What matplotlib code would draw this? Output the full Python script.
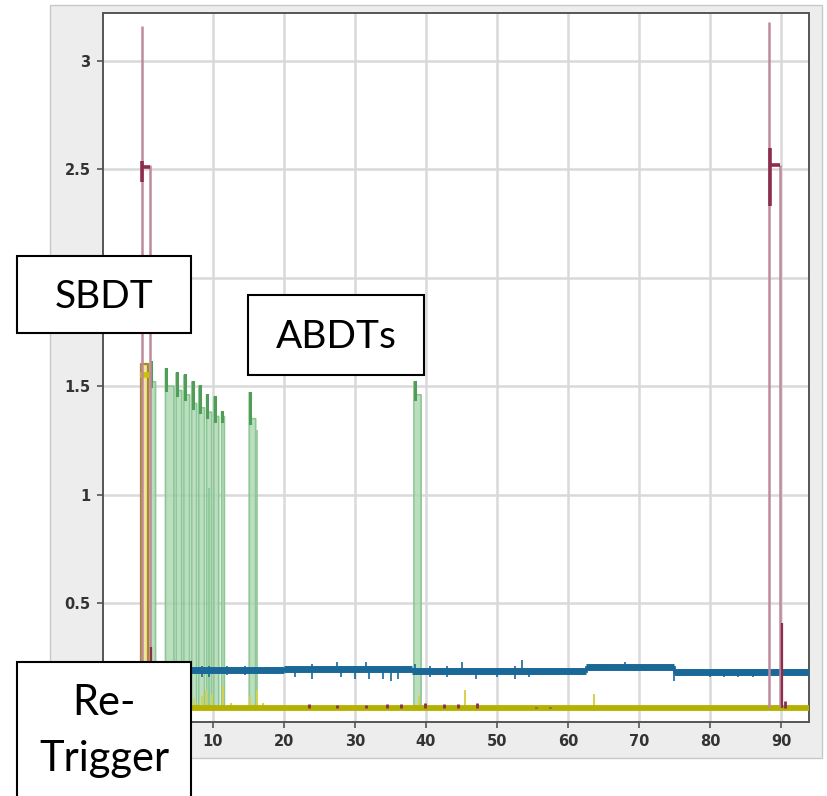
import matplotlib
matplotlib.use('Agg')
import matplotlib.pyplot as plt
from matplotlib.patches import Rectangle

# ---------------- data ----------------
x_ticks = [10, 20, 30, 40, 50, 60, 70, 80, 90]
y_ticks = [0.5, 1, 1.5, 2, 2.5, 3]
y_tick_labels = ['0.5', '1', '1.5', '', '2.5', '3']  # "2" is hidden behind the SBDT box

# SBDT (maroon) spikes
sbdt_spike_x = [0.0, 1.1, 88.3, 89.9]
sbdt_spike_top = [3.16, 2.52, 3.18, 2.52]
sbdt_flag_x0 = [0.0, 88.4]
sbdt_flag_x1 = [1.1, 89.9]
sbdt_flag_y = [2.51, 2.52]
sbdt_flag_lo = [2.44, 2.33]
sbdt_flag_hi = [2.54, 2.60]
sbdt_tail_x = [1.3, 90.1]
sbdt_tail_top = [0.30, 0.41]
sbdt_small_x = [23.5, 27.5, 31.5, 34.5, 36.5, 39.8, 42.5, 44.5, 47.2, 55.5, 57.5, 90.6]
sbdt_small_top = [0.035, 0.03, 0.03, 0.035, 0.035, 0.04, 0.035, 0.035, 0.04, 0.02, 0.02, 0.05]

# Re-trigger (yellow) pulse and baseline
retrig_x0 = -0.2
retrig_x1 = 0.9
retrig_top = 1.60
retrig_base = 0.015
retrig_spike_x = [2.2, 3.6, 5.2, 6.4, 7.3, 8.4, 9.0, 9.8, 11.4, 12.6, 15.2, 16.2, 17.0, 39.0, 45.5, 63.6, 70.0, 74.5]
retrig_spike_top = [0.10, 0.08, 0.07, 0.09, 0.06, 0.07, 0.10, 0.08, 0.12, 0.04, 0.07, 0.10, 0.04, 0.07, 0.10, 0.08, 0.03, 0.03]

# ABDTs (green) pulses
abdt_start = [1.2, 3.3, 4.8, 5.9, 7.0, 8.0, 9.1, 10.1, 11.2, 15.1, 38.3]
abdt_end = [1.9, 4.5, 5.6, 6.7, 7.7, 8.8, 9.8, 10.8, 11.6, 16.0, 39.3]
abdt_top = [1.61, 1.58, 1.56, 1.55, 1.52, 1.50, 1.46, 1.45, 1.38, 1.47, 1.52]
abdt_endtop = [1.52, 1.50, 1.48, 1.46, 1.42, 1.40, 1.38, 1.36, 1.36, 1.35, 1.46]
abdt_inner_x = [9.5, 16.2]
abdt_inner_top = [1.03, 1.30]

# blue trace
blue_x = [1.0, 20.0, 38.0, 62.5, 75.0, 93.9]
blue_y = [0.190, 0.195, 0.185, 0.205, 0.182]
blue_tick_x = [8.5, 9.5, 12.0, 14.5, 21.5, 24.0, 27.5, 28.0, 30.0, 31.5, 32.0, 34.0, 35.0, 36.0,
               38.5, 40.5, 43.0, 45.0, 47.0, 50.0, 52.5, 53.5, 54.5, 64.5, 68.0, 75.0, 80.0, 82.0, 84.0, 86.0]
blue_tick_lo = [0.16, 0.16, 0.17, 0.17, 0.16, 0.15, 0.19, 0.16, 0.15, 0.19, 0.15, 0.15, 0.14, 0.15,
                0.17, 0.16, 0.16, 0.19, 0.15, 0.16, 0.15, 0.18, 0.16, 0.19, 0.20, 0.14, 0.16, 0.16, 0.16, 0.16]
blue_tick_hi = [0.21, 0.21, 0.21, 0.21, 0.21, 0.22, 0.23, 0.21, 0.21, 0.23, 0.21, 0.21, 0.21, 0.21,
                0.22, 0.21, 0.21, 0.23, 0.20, 0.20, 0.21, 0.24, 0.20, 0.22, 0.23, 0.21, 0.19, 0.19, 0.19, 0.19]

labels = ['SBDT', 'ABDTs', 'Re-\nTrigger']

# ---------------- figure ----------------
W, H = 827, 796
fig = plt.figure(figsize=(W / 100, H / 100), dpi=100)
fig.patch.set_facecolor('white')


def fx(px):
    return px / W


def fy(py):
    return 1 - py / H


# grey panel behind chart
fig.patches.append(Rectangle((fx(50), fy(758)), fx(772), (758 - 5) / H,
                             transform=fig.transFigure, facecolor='#ededed',
                             edgecolor='#c8c8c8', lw=1.0, zorder=-5))

ax = fig.add_axes([fx(103), fy(722), fx(706), (722 - 13) / H])
ax.set_zorder(1)
ax.set_facecolor('white')
ax.set_xlim(-5.5, 93.95)
ax.set_ylim(-0.048, 3.22)
ax.set_xticks(x_ticks)
ax.set_yticks(y_ticks)
ax.set_yticklabels(y_tick_labels)
ax.grid(True, color='#d9d9d9', lw=1.8)
ax.set_axisbelow(True)
for s in ax.spines.values():
    s.set_color('#555555')
    s.set_linewidth(1.4)
ax.tick_params(direction='out', length=4, width=1.2, colors='#555555',
               labelcolor='#333333', labelsize=10.5, pad=5)
for lab in ax.get_xticklabels() + ax.get_yticklabels():
    lab.set_fontweight('bold')

maroon = '#8c2d4e'
maroon_light = '#bf8a9c'
green_line = '#8cc795'
green_dark = '#4f9d57'
green_fill = '#a9d6ae'
yellow = '#b5b100'
blue = '#1a6898'

# green ABDT pulses
for s, e, t, et in zip(abdt_start, abdt_end, abdt_top, abdt_endtop):
    ax.fill_between([s, s + 0.25, e], [retrig_base] * 3, [t, et, et], color=green_fill, alpha=0.8, lw=0, zorder=2)
    ax.plot([s, s, s + 0.25, e, e], [retrig_base, t, et, et, retrig_base], color=green_line, lw=1.2, zorder=3)
    ax.plot([s + 0.12, s + 0.12], [t, et - 0.02], color=green_dark, lw=2.2, zorder=3)
ax.vlines(abdt_inner_x, retrig_base, abdt_inner_top, color=green_line, lw=1.2, zorder=3)

# yellow re-trigger pulse
ax.fill_between([retrig_x0, retrig_x1], [retrig_base, retrig_base], [retrig_top, retrig_top],
                color='#efe3a0', lw=0, zorder=3)
ax.plot([retrig_x0, retrig_x0, retrig_x1, retrig_x1], [retrig_base, retrig_top, retrig_top, retrig_base],
        color='#a88a22', lw=1.6, zorder=4)
ax.plot([retrig_x0 + 0.3, retrig_x1 - 0.2], [retrig_top - 0.05, retrig_top - 0.05], color='#c9c300', lw=4, zorder=4)
ax.vlines(retrig_spike_x, retrig_base, retrig_spike_top, color='#d6d24a', lw=1.4, zorder=4)

# blue trace
for i in range(len(blue_y)):
    ax.plot([blue_x[i], blue_x[i + 1]], [blue_y[i], blue_y[i]], color=blue, lw=5.0, zorder=5,
            solid_capstyle='butt')
    if i + 1 < len(blue_y):
        ax.plot([blue_x[i + 1], blue_x[i + 1]], [blue_y[i], blue_y[i + 1]], color=blue, lw=2.0, zorder=5)
ax.vlines(blue_tick_x, blue_tick_lo, blue_tick_hi, color=blue, lw=1.2, zorder=5)

# yellow baseline
ax.plot([-0.2, 93.95], [retrig_base, retrig_base], color=yellow, lw=4.2, zorder=6, solid_capstyle='butt')

# SBDT maroon spikes
ax.vlines(sbdt_spike_x, retrig_base, sbdt_spike_top, color=maroon_light, lw=1.8, zorder=7)
ax.vlines(sbdt_flag_x0, sbdt_flag_lo, sbdt_flag_hi, color=maroon, lw=2.6, zorder=8)
ax.hlines(sbdt_flag_y, sbdt_flag_x0, sbdt_flag_x1, color=maroon, lw=2.6, zorder=8)
ax.vlines(sbdt_tail_x, retrig_base, sbdt_tail_top, color=maroon, lw=1.6, zorder=8)
ax.vlines(sbdt_small_x, retrig_base, sbdt_small_top, color=maroon, lw=2.0, zorder=7)

# annotation boxes (figure pixels)
boxes = [(17, 256, 191, 333), (248, 295, 424, 375), (17, 662, 191, 820)]
centers = [(104, 297), (336, 337), (104, 731)]
sizes = [28, 28, 30]
for (x0, y0, x1, y1), (cx, cy), txt, fs in zip(boxes, centers, labels, sizes):
    fig.patches.append(Rectangle((fx(x0), fy(y1)), fx(x1 - x0), (y1 - y0) / H,
                                 transform=fig.transFigure, facecolor='white',
                                 edgecolor='black', lw=1.5, zorder=10))
    fig.text(fx(cx), fy(cy), txt, ha='center', va='center', fontsize=fs,
             family=['Lato', 'DejaVu Sans'], linespacing=1.55, zorder=11)

fig.savefig('out.png', dpi=100)
